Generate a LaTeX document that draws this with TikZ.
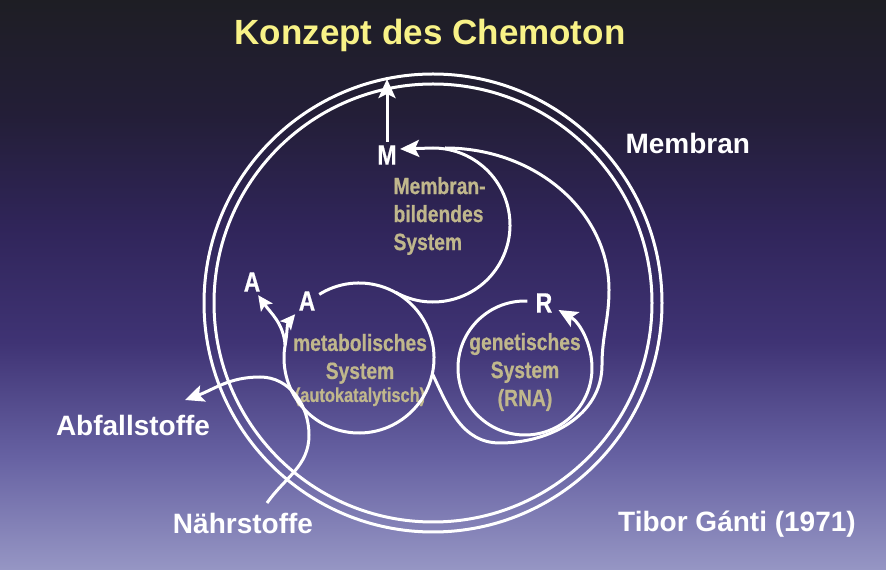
\documentclass[tikz,border=0pt]{standalone}
\usepackage{fontspec}
\setmainfont{Liberation Sans}
\newfontfamily\narrowfont[FakeStretch=0.82, FakeBold=0.6]{Liberation Sans}
\usetikzlibrary{arrows.meta}

\definecolor{bgA}{RGB}{150,150,196}
\definecolor{bgB}{RGB}{102,97,162}
\definecolor{bgC}{RGB}{63,51,116}
\definecolor{bgD}{RGB}{48,37,90}
\definecolor{bgE}{RGB}{35,30,55}
\definecolor{bgF}{RGB}{30,30,36}
\definecolor{headyellow}{RGB}{248,242,135}
\definecolor{systan}{RGB}{192,183,140}

\pgfdeclareverticalshading{chemobg}{100bp}{color(0bp)=(bgA); color(25bp)=(bgA); color(35bp)=(bgB); color(45bp)=(bgC); color(55bp)=(bgD); color(65bp)=(bgE); color(75bp)=(bgF); color(100bp)=(bgF)}

\begin{document}
\begin{tikzpicture}[x=1pt, y=1pt,
  ring/.style={white, line width=3pt},
  flow/.style={ring, -{Stealth[length=19pt,width=17pt,inset=4pt]}},
  smallflow/.style={ring, -{Stealth[length=15pt,width=14pt,inset=3pt]}},
  headline/.style={text=headyellow, font=\fontsize{35}{40}\selectfont\bfseries},
  bigword/.style={text=white, font=\fontsize{28}{32}\selectfont\bfseries},
  letter/.style={text=white, font=\narrowfont\fontsize{28}{32}\selectfont\bfseries},
  sysname/.style={text=systan, font=\narrowfont\fontsize{23.5}{28}\selectfont\bfseries, align=center}]

  \shade[shading=chemobg] (0,0) rectangle (886,570);
  \useasboundingbox (0,0) rectangle (886,570);

  \def\cx{433}  \def\cy{267}   % membrane
  \def\ax{359}  \def\ay{212}  \def\ar{75}   % metabolic cycle
  \def\bx{433}  \def\by{345}  \def\br{77}   % membrane forming
  \def\gx{525}  \def\gy{202}  \def\gr{67}   % genetic

  % labels
  \node[headline] (title) at (430,535) {Konzept des Chemoton};
  \node[bigword, anchor=west] (membran) at (622,427) {Membran};
  \node[bigword] (abfall) at (133,145) {Abfallstoffe};
  \node[bigword] (naehr) at (243,47) {Nährstoffe};
  \node[bigword] (ganti) at (737,46) {Tibor Gánti (1971)};

  \node[letter] (M) at (387,415) {M};
  \node[letter] (A1) at (252,288) {A};
  \node[letter] (A2) at (307,269) {A};
  \node[letter] (R) at (544,267) {R};

  \node[sysname, align=left, anchor=west] (msys) at (390,354) {Membran-\\bildendes\\System};
  \node[sysname] (metab) at (360,200) {metabolisches\\System\\[-5pt]{\fontsize{20}{22}\selectfont(autokatalytisch)}};
  \node[sysname] (genet) at (525,198) {genetisches\\System\\(RNA)};

  \coordinate (wall) at (387,491);
  \coordinate (nin) at (267,67);
  \coordinate (nout) at (185,170);

  % membrane (double wall)
  \draw[ring] (\cx,\cy) circle[radius=229];
  \draw[ring] (\cx,\cy) circle[radius=219];

  \draw[flow] (M.north) -- (wall);

  % metabolic cycle and its products
  \draw[ring] (\ax,\ay) ++(122:\ar) arc[start angle=122, end angle=-190, radius=\ar] coordinate (abranch);
  \draw[smallflow] (abranch) to[out=80, in=-130] (A2.south west);
  \draw[smallflow] (abranch) to[out=95, in=-55] (A1.-65);

  % membrane forming loop
  \draw[flow] (\bx,\by) ++(240.9:\br) arc[start angle=240.9, end angle=450, radius=\br] -- ([yshift=6pt]M.east);

  % template loop around the genetic system
  \draw[ring] (\ax,\ay) ++(-12:\ar) to[out=-65, in=180] (500,127) to[out=0, in=-90] (602,205)
    to[out=90, in=-90] (609,280) arc[start angle=0, end angle=90, x radius=164, y radius=142];

  \draw[flow] (\gx,\gy) ++(88:\gr) arc[start angle=88, end angle=420, radius=\gr];

  % nutrients in, waste out
  \draw[flow] (nin) to[out=55, in=-90] (309,135) to[out=90, in=0] (260,193) to[out=180, in=20] (nout);

\end{tikzpicture}
\end{document}
